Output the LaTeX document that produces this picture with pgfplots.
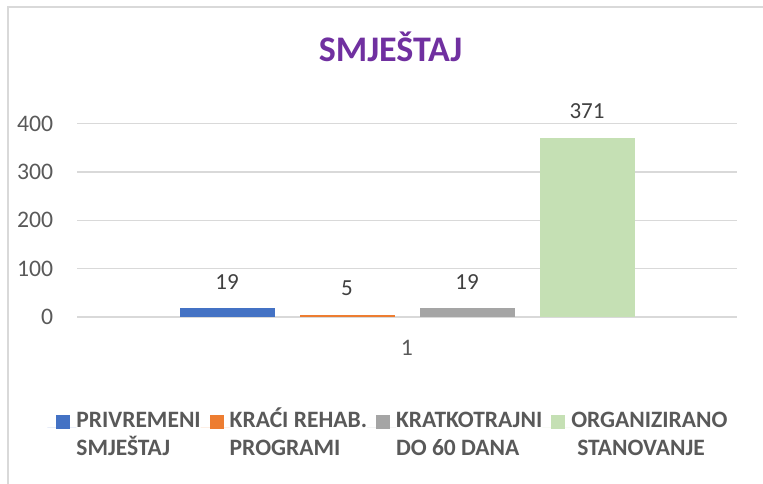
\documentclass[border=0pt]{standalone}
\usepackage{pgfplots}
\pgfplotsset{compat=1.18}
\usepackage{fontspec}
\setmainfont{Carlito}
\definecolor{cblue}{HTML}{4472C4}
\definecolor{corange}{HTML}{ED7D31}
\definecolor{cgray}{HTML}{A5A5A5}
\definecolor{cgreen}{HTML}{C5E0B4}
\definecolor{ctitle}{HTML}{7030A0}
\definecolor{ctick}{HTML}{595959}
\definecolor{clabel}{HTML}{404040}
\definecolor{cgrid}{HTML}{D9D9D9}
\begin{document}
\begin{tikzpicture}
\useasboundingbox (0,0) rectangle (763bp,484bp);
\draw[cgrid, line width=1.5bp] (8bp,0) -- (8bp,477bp) -- (763bp,477bp);
\begin{axis}[
  at={(77bp,167bp)}, anchor=south west,
  scale only axis, width=660bp, height=193.3bp,
  xmin=0, xmax=2, ymin=0, ymax=400,
  ytick={0,100,200,300,400},
  xtick={1}, xticklabels={1},
  ybar=25bp, bar width=95bp,
  axis line style={draw=none},
  major tick length=0pt,
  ymajorgrids, grid style={cgrid, line width=1.5bp},
  /pgf/number format/assume math mode=true,
  tick label style={font=\fontsize{23.7bp}{28bp}\selectfont, text=ctick},
  yticklabel style={anchor=east, inner sep=0pt, xshift=-23.7bp},
  xticklabel style={anchor=north, inner sep=0pt, yshift=-23bp},
  clip=false,
  nodes near coords,
  nodes near coords style={font=\fontsize{23bp}{28bp}\selectfont, text=clabel, anchor=south, inner sep=0pt, yshift=18.5bp},
  title={SMJEŠTAJ},
  title style={at={(0.475,1)}, anchor=base, yshift=56bp, font=\fontsize{36bp}{42bp}\selectfont\bfseries, text=ctitle, inner sep=0pt},
  legend columns=4,
  legend style={at={(0.481,0)}, anchor=north, xshift=-7bp, yshift=-91bp, draw=none, fill=none, inner sep=0pt, outer sep=0pt, column sep=0pt, row sep=0pt, font=\fontsize{23.5bp}{28bp}\selectfont\bfseries, text=ctick, cells={anchor=base west}, nodes={inner sep=0pt}},
  legend image code/.code={\path (-9bp,0) -- (20bp,0); \fill[#1, draw=none] (0bp,-1bp) rectangle (14bp,13bp);},
]
\addplot[fill=cblue, draw=none] coordinates {(1,19)};
\addplot[fill=corange, draw=none] coordinates {(1,5)};
\addplot[fill=cgray, draw=none] coordinates {(1,19)};
\addplot[fill=cgreen, draw=none] coordinates {(1,371)};
\addlegendentry{\begin{tabular}[t]{@{}l@{}}PRIVREMENI\\SMJEŠTAJ\end{tabular}}
\addlegendentry{\begin{tabular}[t]{@{}l@{}}KRAĆI REHAB.\\PROGRAMI\end{tabular}}
\addlegendentry{\begin{tabular}[t]{@{}l@{}}KRATKOTRAJNI\\DO 60 DANA\end{tabular}}
\addlegendentry{\begin{tabular}[t]{@{}l@{}}ORGANIZIRANO\\\hspace*{6bp}STANOVANJE\end{tabular}}
\end{axis}
\end{tikzpicture}
\end{document}
